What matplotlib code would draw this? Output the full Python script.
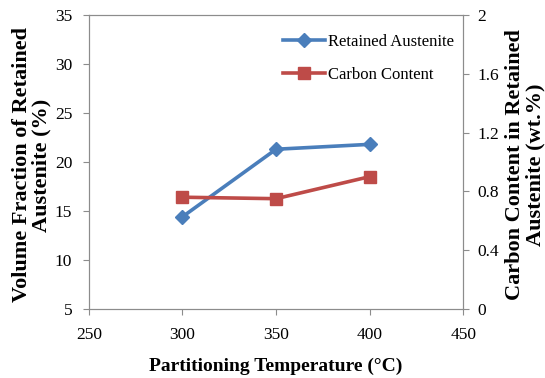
import matplotlib.pyplot as plt

temps = [300, 350, 400]
austenite = [14.4, 21.3, 21.8]
carbon = [0.76, 0.75, 0.90]

plt.rcParams['font.family'] = ['Liberation Serif', 'DejaVu Serif']

fig = plt.figure(figsize=(5.45, 3.78), dpi=100)
ax = fig.add_axes([0.163, 0.183, 0.687, 0.777])
ax2 = ax.twinx()

blue = '#4A7EBB'
red = '#BE4B48'
grey = '#8c8c8c'

l1, = ax.plot(temps, austenite, color=blue, lw=2.6, marker='D', ms=7, label='Retained Austenite')
l2, = ax2.plot(temps, carbon, color=red, lw=2.6, marker='s', ms=8, label='Carbon Content')

ax.set_xlim(250, 450)
ax.set_ylim(5, 35)
ax.set_xticks([250, 300, 350, 400, 450])
ax.set_yticks([5, 10, 15, 20, 25, 30, 35])
ax2.set_ylim(0, 2)
ax2.set_yticks([0, 0.4, 0.8, 1.2, 1.6, 2])
ax2.set_yticklabels(['0', '0.4', '0.8', '1.2', '1.6', '2'])

for a in (ax, ax2):
    for s in a.spines.values():
        s.set_color(grey)
    a.tick_params(colors=grey, labelcolor='black', labelsize=12.5, length=4, direction='out')
ax.tick_params(axis='x', pad=9)
ax.tick_params(axis='y', pad=8)
ax2.tick_params(axis='y', pad=6)

ax.set_xlabel('Partitioning Temperature (\u00b0C)', fontsize=14, fontweight='bold')
ax.xaxis.set_label_coords(0.5, -0.165)
ax.set_ylabel('Volume Fraction of Retained\nAustenite (%)', fontsize=16, fontweight='bold',
              linespacing=1.0)
ax.yaxis.set_label_coords(-0.099, 0.49)
ax2.set_ylabel('Carbon Content in Retained\nAustenite (wt.%)', fontsize=16, fontweight='bold',
               linespacing=1.0)
ax2.yaxis.set_label_coords(1.112, 0.49)

ax.legend(handles=[l1, l2], loc='upper left', bbox_to_anchor=(0.519, 0.935), frameon=False,
          borderpad=0, borderaxespad=0, fontsize=12, handlelength=2.5, handletextpad=0.2,
          labelspacing=1.0)

fig.savefig('out.png', dpi=100)
